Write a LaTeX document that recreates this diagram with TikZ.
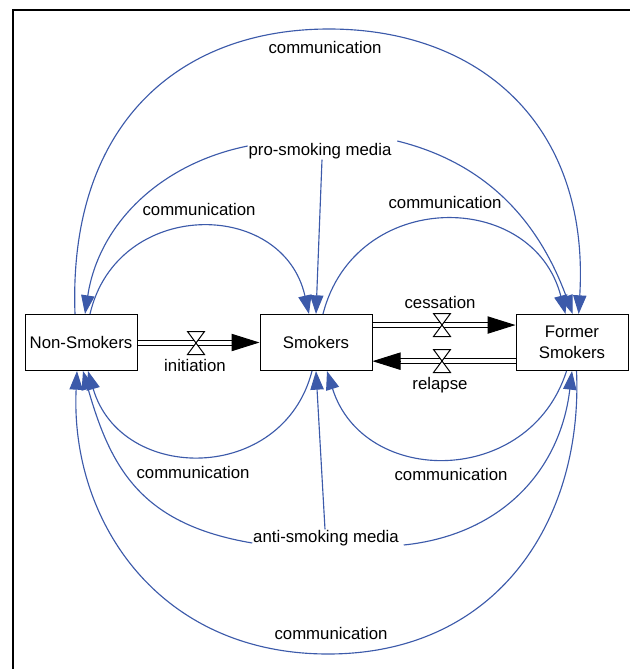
\documentclass[tikz,border=0pt]{standalone}
\usepackage{fontspec}
\setmainfont{Liberation Sans}
\usetikzlibrary{arrows.meta}
\definecolor{linkblue}{RGB}{60,90,170}
\begin{document}
\begin{tikzpicture}[x=0.75pt,y=-0.75pt,
  every node/.style={font=\fontsize{12.6pt}{15.75pt}\selectfont},
  stock/.style={draw, line width=0.75pt, minimum width=84pt, minimum height=42pt, inner sep=0pt, align=center},
  lbl/.style={inner sep=0.5pt, text height=9pt, text depth=2.6pt},
  link/.style={draw=linkblue, line width=0.85pt, -{Triangle[length=14pt,width=10pt]}},
  pipe/.style={draw, line width=0.75pt, double, double distance=3pt, shorten >=20pt},
  flowtip/.style={draw, line width=0.75pt, -{Triangle[length=21pt,width=13pt]}},
  valvest/.style={draw, fill=white, line width=0.75pt, line join=miter}]
\useasboundingbox (0,0) rectangle (630,669);
\draw[line width=1.5pt] (13,669) -- (13,10) -- (630,10);

% stocks
\node[stock] (ns) at (81,342.5) {Non-Smokers};
\node[stock] (sm) at (316,342.5) {Smokers};
\node[stock] (fs) at (572,342.5) {Former\\Smokers};

% labels
\node[lbl] (c1) at (325,49) {communication};
\node[lbl] (pm) at (320,151) {pro-smoking media};
\node[lbl] (c2) at (199,211) {communication};
\node[lbl] (c3) at (445,204) {communication};
\node[lbl] (c4) at (193,474) {communication};
\node[lbl] (c5) at (451,476) {communication};
\node[lbl] (am) at (326,538) {anti-smoking media};
\node[lbl] (c6) at (331,635) {communication};

% flows
\coordinate (v1) at (196,343);
\coordinate (v2) at (442,325);
\coordinate (v3) at (442,361);
\draw[pipe] (ns.east) -- (sm.west);
\draw[flowtip] ([xshift=-21pt]sm.west) -- (sm.west);
\draw[pipe] ([yshift=13.1pt]sm.east) -- ([yshift=13.1pt]fs.west);
\draw[flowtip] ([shift={(-21pt,13.1pt)}]fs.west) -- ([yshift=13.1pt]fs.west);
\draw[pipe] ([yshift=-14pt]fs.west) -- ([yshift=-14pt]sm.east);
\draw[flowtip] ([shift={(21pt,-14pt)}]sm.east) -- ([yshift=-14pt]sm.east);
\foreach \v in {v1,v2,v3}
  \draw[valvest] (\v) +(-8.5,-11.5) -- +(8.5,-11.5) -- +(-8.5,11.5) -- +(8.5,11.5) -- cycle;
\node[lbl] (li) at (195,367) {initiation};
\node[lbl] (lc) at (440,304) {cessation};
\node[lbl] (lr) at (440,385) {relapse};

% links above
\draw[link] ([xshift=-4.5pt]ns.north) .. controls (68,124) and (179,29) .. (329,29)
  .. controls (479,29) and (590,124) .. ([xshift=5pt]fs.north);
\draw[link] ([yshift=3.75pt]pm.west) .. controls (159,164) and (98.5,225) .. ([xshift=3pt]ns.north);
\draw[link] ([shift={(3.75pt,7.5pt)}]pm.east) .. controls (494,165) and (541.5,229.4) .. ([xshift=0.5pt]fs.north);
\draw[link] ([xshift=1.5pt]pm.south) -- (sm.north);
\draw[link] ([xshift=6.75pt]ns.north) .. controls (117,198) and (283,198) .. ([xshift=-5.25pt]sm.north);
\draw[link] ([xshift=5.25pt]sm.north) .. controls (355,188.5) and (533,188.5) .. ([xshift=-4.9pt]fs.north);

% links below
\draw[link] ([xshift=-3pt]sm.south) .. controls (283,484) and (121,484) .. ([xshift=5.25pt]ns.south);
\draw[link] ([xshift=-4.1pt]fs.south) .. controls (529.5,487.4) and (363.5,487.4) .. ([xshift=8.25pt]sm.south);
\draw[link] ([xshift=3.4pt]fs.south) .. controls (583,520) and (498,654) .. (328,654)
  .. controls (158,654) and (70,520) .. ([xshift=-3pt]ns.south);
\draw[link] ([yshift=-3.75pt]am.west) .. controls (141.6,524.3) and (111,469) .. ([xshift=1.5pt]ns.south);
\draw[link] ([xshift=-0.75pt]am.north) -- (sm.south);
\draw[link] ([shift={(3pt,-5.25pt)}]am.east) .. controls (500,535) and (560,472) .. (fs.south);
\end{tikzpicture}
\end{document}
